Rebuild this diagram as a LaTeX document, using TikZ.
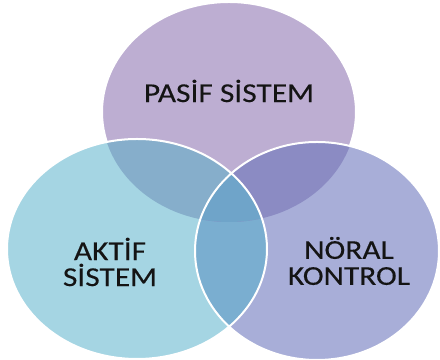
\documentclass[tikz,border=0pt]{standalone}
\usepackage{fontspec}
\setmainfont{Carlito}[FakeStretch=1.15, FakeBold=0.2]
\usepackage{tikz}
\usetikzlibrary{positioning}

\definecolor{pasifcol}{HTML}{BDAED2}
\definecolor{aktifcol}{HTML}{A5D5E3}
\definecolor{noralcol}{HTML}{A8AED8}
\definecolor{pacol}{HTML}{86AECB}
\definecolor{pncol}{HTML}{8B8BC3}
\definecolor{ancol}{HTML}{7AAED0}
\definecolor{midcol}{HTML}{6FA4C9}

\begin{document}
\begin{tikzpicture}[
    x=0.75pt, y=0.75pt,
    every node/.style={font=\fontsize{20.5}{19.5}\selectfont, text=black!92},
    pasifr/.style={x radius=127, y radius=110},
    aktifr/.style={x radius=130, y radius=110},
    noralr/.style={x radius=122, y radius=109},
    rim/.style={draw=white, line width=1.5pt},
    lbl/.style={align=center}
]

\fill[white] (0,0) rectangle (440,360);
\useasboundingbox (0,0) rectangle (440,360);

\coordinate (pasif) at (229,248);
\coordinate (aktif) at (137,111);
\coordinate (noral) at (317,109);

% the three sets
\fill[pasifcol, rim] (pasif) ellipse [pasifr];
\fill[aktifcol] (aktif) ellipse [aktifr];
\fill[noralcol] (noral) ellipse [noralr];

% overlaps
\begin{scope}
  \clip (aktif) ellipse [aktifr];
  \fill[pacol] (pasif) ellipse [pasifr];
  \fill[ancol] (noral) ellipse [noralr];
\end{scope}
\begin{scope}
  \clip (noral) ellipse [noralr];
  \fill[pncol] (pasif) ellipse [pasifr];
\end{scope}
\begin{scope}
  \clip (aktif) ellipse [aktifr];
  \clip (noral) ellipse [noralr];
  \fill[midcol] (pasif) ellipse [pasifr];
\end{scope}

\draw[rim] (aktif) ellipse [aktifr];
\draw[rim] (noral) ellipse [noralr];

\node[lbl] (pasiflbl) at (229,269) {PASİF SİSTEM};
\node[lbl] (aktiflbl) at (110,98) {AKTİF\\SİSTEM};
\node[lbl] (norallbl) at (349,99) {NÖRAL\\KONTROL};

\end{tikzpicture}
\end{document}
